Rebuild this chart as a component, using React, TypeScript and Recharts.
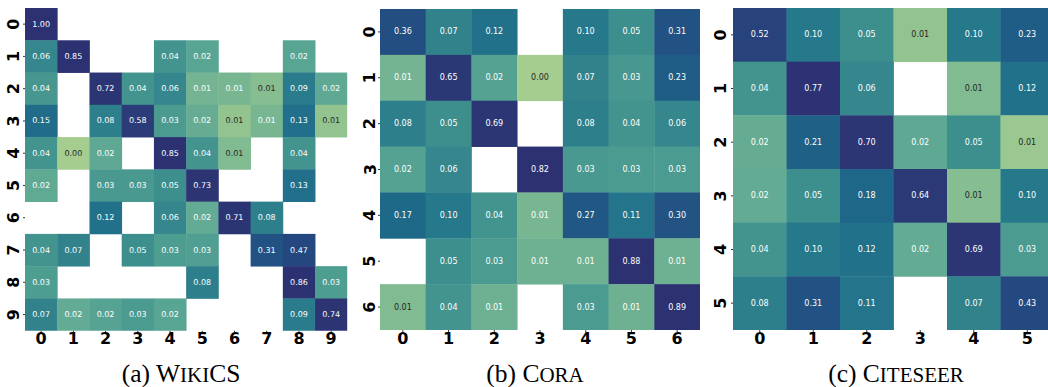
import React from 'react';
import { ScatterChart, Scatter, XAxis, YAxis } from 'recharts';

// ---------- DATA ----------
const WIKICS_LABELS = ['0', '1', '2', '3', '4', '5', '6', '7', '8', '9'];
const CORA_LABELS = ['0', '1', '2', '3', '4', '5', '6'];
const CITESEER_LABELS = ['0', '1', '2', '3', '4', '5'];

// null = empty cell. (shown with 2 decimals).
const WIKICS_VALUES: (number | null)[][] = [
  [1.0, null, null, null, null, null, null, null, null, null],
  [0.06, 0.85, null, null, 0.04, 0.022, null, null, 0.022, null],
  [0.035, null, 0.72, 0.04, 0.06, 0.012, 0.011, 0.008, 0.09, 0.02],
  [0.15, null, 0.08, 0.58, 0.03, 0.017, 0.006, 0.011, 0.13, 0.006],
  [0.04, 0.004, 0.02, null, 0.85, 0.04, 0.009, null, 0.04, null],
  [0.019, null, 0.032, 0.032, 0.05, 0.73, null, null, 0.13, null],
  [null, null, 0.12, null, 0.06, 0.018, 0.71, 0.08, null, null],
  [0.04, 0.07, null, 0.05, 0.028, 0.026, null, 0.31, 0.47, null],
  [0.028, null, null, null, null, 0.08, null, null, 0.86, 0.028],
  [0.07, 0.018, 0.023, 0.03, 0.022, null, null, null, 0.09, 0.74],
];

const CORA_VALUES: (number | null)[][] = [
  [0.36, 0.07, 0.12, null, 0.1, 0.05, 0.31],
  [0.012, 0.65, 0.024, 0.004, 0.07, 0.034, 0.23],
  [0.08, 0.05, 0.69, null, 0.08, 0.04, 0.06],
  [0.024, 0.06, null, 0.82, 0.032, 0.03, 0.03],
  [0.17, 0.1, 0.04, 0.011, 0.27, 0.11, 0.3],
  [null, 0.05, 0.03, 0.014, 0.014, 0.88, 0.014],
  [0.009, 0.04, 0.014, null, 0.03, 0.014, 0.89],
];

const CITESEER_VALUES: (number | null)[][] = [
  [0.52, 0.1, 0.05, 0.006, 0.1, 0.23],
  [0.04, 0.77, 0.06, null, 0.009, 0.12],
  [0.017, 0.21, 0.7, 0.02, 0.05, 0.005],
  [0.018, 0.05, 0.18, 0.64, 0.008, 0.1],
  [0.04, 0.1, 0.12, 0.018, 0.69, 0.03],
  [0.08, 0.31, 0.11, null, 0.07, 0.43],
];

// ---------- COLOUR (crest-like, log norm) ----------
const CREST: [number, string][] = [
  [0.0, '#a5cd90'],
  [0.174, '#7cb891'],
  [0.3, '#5fa994'],
  [0.37, '#4d9c91'],
  [0.435, '#43938f'],
  [0.477, '#3d8f8e'],
  [0.512, '#36868d'],
  [0.565, '#2e7f8c'],
  [0.609, '#26788b'],
  [0.643, '#22718a'],
  [0.709, '#1f6988'],
  [0.766, '#1f5c86'],
  [0.817, '#225383'],
  [0.9, '#25477f'],
  [0.94, '#2b3c78'],
  [1.0, '#2c3172'],
];
const VMIN = 0.004;
const VMAX = 0.8;

function hexToRgb(h: string): [number, number, number] {
  return [parseInt(h.slice(1, 3), 16), parseInt(h.slice(3, 5), 16), parseInt(h.slice(5, 7), 16)];
}
function colorFor(v: number): [number, number, number] {
  const lv = Math.log10(Math.max(v, 1e-6));
  let t = (lv - Math.log10(VMIN)) / (Math.log10(VMAX) - Math.log10(VMIN));
  t = Math.max(0, Math.min(1, t));
  for (let i = 0; i < CREST.length - 1; i++) {
    const [t0, c0] = CREST[i];
    const [t1, c1] = CREST[i + 1];
    if (t >= t0 && t <= t1) {
      const f = (t - t0) / (t1 - t0);
      const a = hexToRgb(c0);
      const b = hexToRgb(c1);
      return [0, 1, 2].map((k) => Math.round(a[k] + (b[k] - a[k]) * f)) as [number, number, number];
    }
  }
  return hexToRgb(CREST[CREST.length - 1][1]);
}
function luminance([r, g, b]: [number, number, number]) {
  const lin = (c: number) => {
    const s = c / 255;
    return s <= 0.03928 ? s / 12.92 : Math.pow((s + 0.055) / 1.055, 2.4);
  };
  return 0.2126 * lin(r) + 0.7152 * lin(g) + 0.0722 * lin(b);
}

// ---------- LAYOUT ----------
type Panel = {
  labels: string[];
  values: (number | null)[][];
  left: number;
  yw: number;
  plotTop: number;
  plotW: number;
  plotH: number;
  yLabelOffset: number;
  caption: [string, string, string];
  captionX: number;
};

const PANELS: Panel[] = [
  {
    labels: WIKICS_LABELS,
    values: WIKICS_VALUES,
    left: 0,
    yw: 25,
    plotTop: 8,
    plotW: 322.3,
    plotH: 322.7,
    yLabelOffset: 11.5,
    caption: ['W', 'IKI', 'CS'],
    captionX: 181,
  },
  {
    labels: CORA_LABELS,
    values: CORA_VALUES,
    left: 345,
    yw: 35,
    plotTop: 9,
    plotW: 320,
    plotH: 321,
    yLabelOffset: 10,
    caption: ['C', 'ORA', ''],
    captionX: 535,
  },
  {
    labels: CITESEER_LABELS,
    values: CITESEER_VALUES,
    left: 698,
    yw: 35,
    plotTop: 8,
    plotW: 321,
    plotH: 322,
    yLabelOffset: 12.5,
    caption: ['C', 'ITESEER', ''],
    captionX: 896,
  },
];

const TICK_FONT = "'DejaVu Sans', sans-serif";
const X_AXIS_H = 24;

function HeatPanel({ p }: { p: Panel }) {
  const n = p.labels.length;
  const cells = p.values.flatMap((row, r) =>
    row.map((v, c) => (v == null ? null : { x: c, y: r, v })).filter((d) => d != null)
  ) as { x: number; y: number; v: number }[];
  const cw = p.plotW / n;
  const ch = p.plotH / n;
  const width = p.yw + p.plotW + 1;
  const height = p.plotTop + p.plotH + X_AXIS_H;
  const plotBottom = p.plotTop + p.plotH;
  const ticks = p.labels.map((_, i) => i);

  const CellShape = (props: any) => {
    const { cx, cy, payload } = props;
    const rgb = colorFor(payload.v);
    const fill = `rgb(${rgb[0]},${rgb[1]},${rgb[2]})`;
    const textColor = luminance(rgb) > 0.408 ? '#262626' : '#ffffff';
    return (
      <g>
        <rect x={cx - cw / 2} y={cy - ch / 2} width={cw + 0.4} height={ch + 0.4} fill={fill} />
        <text
          x={cx}
          y={cy}
          textAnchor="middle"
          dominantBaseline="central"
          fontFamily={TICK_FONT}
          fontSize={8}
          fill={textColor}
        >
          {payload.v.toFixed(2)}
        </text>
      </g>
    );
  };

  const XTick = (props: any) => {
    const { x, payload } = props;
    return (
      <text
        x={x}
        y={plotBottom + 2 + 11.7}
        textAnchor="middle"
        fontFamily={TICK_FONT}
        fontWeight="bold"
        fontSize={16}
        fill="#000"
      >
        {p.labels[payload.value]}
      </text>
    );
  };
  const YTick = (props: any) => {
    const { y, payload } = props;
    const lx = p.yw - p.yLabelOffset;
    return (
      <text
        x={lx}
        y={y}
        transform={`rotate(-90, ${lx}, ${y})`}
        textAnchor="middle"
        dominantBaseline="central"
        fontFamily={TICK_FONT}
        fontWeight="bold"
        fontSize={16}
        fill="#000"
      >
        {p.labels[payload.value]}
      </text>
    );
  };

  return (
    <div style={{ position: 'absolute', left: p.left, top: 0 }}>
      <ScatterChart
        width={width}
        height={height}
        margin={{ top: p.plotTop, right: 1, left: 0, bottom: 0 }}
      >
        <XAxis
          type="number"
          dataKey="x"
          domain={[-0.5, n - 0.5]}
          ticks={ticks}
          interval={0}
          allowDataOverflow
          axisLine={false}
          tickLine={{ stroke: '#000', strokeWidth: 0.8 }}
          tickSize={2}
          height={X_AXIS_H}
          tick={<XTick />}
        />
        <YAxis
          type="number"
          dataKey="y"
          reversed
          domain={[-0.5, n - 0.5]}
          ticks={ticks}
          interval={0}
          allowDataOverflow
          axisLine={false}
          tickLine={{ stroke: '#000', strokeWidth: 0.8 }}
          tickSize={2}
          width={p.yw}
          tick={<YTick />}
        />
        <Scatter data={cells} shape={CellShape} isAnimationActive={false} />
      </ScatterChart>
    </div>
  );
}

export default function App() {
  return (
    <div
      style={{
        position: 'absolute',
        left: 0,
        top: 0,
        width: 1048,
        height: 387,
        overflow: 'hidden',
        background: '#fff',
      }}
    >
      {PANELS.map((p, i) => (
        <HeatPanel key={i} p={p} />
      ))}
      <svg width={1048} height={387} style={{ position: 'absolute', left: 0, top: 0, pointerEvents: 'none' }}>
        {PANELS.map((p, i) => (
          <text
            key={i}
            x={p.captionX}
            y={382}
            textAnchor="middle"
            fontFamily="'Liberation Serif', 'Times New Roman', serif"
            fontSize={25.5}
            fill="#000"
          >
            {`(${'abc'[i]}) `}
            {p.caption[0]}
            <tspan fontSize={21}>{p.caption[1]}</tspan>
            {p.caption[2]}
          </text>
        ))}
      </svg>
    </div>
  );
}
